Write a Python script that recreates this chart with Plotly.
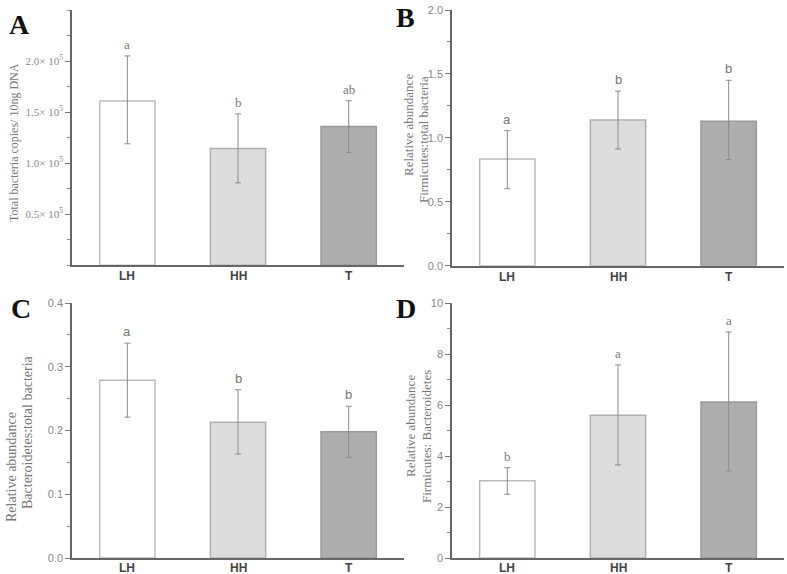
import plotly.graph_objects as go

categories = ["LH", "HH", "T"]

# Panel A: total bacteria copies
a_mean = [1.61, 1.143, 1.359]
a_upper = [2.05, 1.483, 1.611]
a_lower = [1.19, 0.807, 1.104]
a_letters = ["a", "b", "ab"]

# Panel B: Firmicutes:total bacteria
b_mean = [0.835, 1.14, 1.13]
b_upper = [1.056, 1.366, 1.45]
b_lower = [0.602, 0.913, 0.83]
b_letters = ["a", "b", "b"]

# Panel C: Bacteroidetes:total bacteria
c_mean = [0.279, 0.213, 0.198]
c_upper = [0.337, 0.264, 0.238]
c_lower = [0.221, 0.163, 0.158]
c_letters = ["a", "b", "b"]

# Panel D: Firmicutes:Bacteroidetes
d_mean = [3.03, 5.6, 6.12]
d_upper = [3.54, 7.57, 8.86]
d_lower = [2.50, 3.65, 3.41]
d_letters = ["b", "a", "a"]

a_ticks = [0.5, 1.0, 1.5, 2.0]
a_ticktext = ["0.5× 10<sup>5</sup>", "1.0× 10<sup>5</sup>", "1.5× 10<sup>5</sup>", "2.0× 10<sup>5</sup>"]
b_ticks = [0.0, 0.5, 1.0, 1.5, 2.0]
b_ticktext = ["0.0", "0.5", "1.0", "1.5", "2.0"]
c_ticks = [0.0, 0.1, 0.2, 0.3, 0.4]
c_ticktext = ["0.0", "0.1", "0.2", "0.3", "0.4"]
d_ticks = [0, 2, 4, 6, 8, 10]
d_ticktext = ["0", "2", "4", "6", "8", "10"]

fill_colors = ["#ffffff", "#dcdcdc", "#adadad"]
line_colors = ["#bcbcbc", "#b0b0b0", "#9a9a9a"]

SERIF = "Liberation Serif, Times New Roman, serif"
SANS = "Liberation Sans, Arial, sans-serif"

W, H = 787, 574

def px_x(p):
    return p / W

def px_y(p):
    return 1 - p / H

panels = [
    (a_mean, a_upper, a_lower, a_letters, a_ticks, a_ticktext, [0, 2.5], 0.25,
     [px_x(72), px_x(404)], [px_y(265.3), px_y(10)], SERIF, SERIF),
    (b_mean, b_upper, b_lower, b_letters, b_ticks, b_ticktext, [0, 2.0], 0.25,
     [px_x(452), px_x(784)], [px_y(265.7), px_y(10)], SANS, SANS),
    (c_mean, c_upper, c_lower, c_letters, c_ticks, c_ticktext, [0, 0.4], 0.05,
     [px_x(72), px_x(404)], [px_y(558), px_y(303)], SANS, SANS),
    (d_mean, d_upper, d_lower, d_letters, d_ticks, d_ticktext, [0, 10], 1,
     [px_x(452), px_x(784)], [px_y(558), px_y(303)], SANS, SERIF),
]

fig = go.Figure()
annotations = []
layout = {}

for i, (mean, up, lo, letters, ticks, ttext, yr, minor, xd, yd, tfont, lfont) in enumerate(panels):
    idx = "" if i == 0 else str(i + 1)
    xa, ya = "x" + idx, "y" + idx
    err_plus = [u - m for u, m in zip(up, mean)]
    err_minus = [m - l for m, l in zip(mean, lo)]
    fig.add_trace(go.Bar(
        x=categories, y=mean, xaxis=xa, yaxis=ya, width=0.5,
        marker=dict(color=fill_colors, line=dict(color=line_colors, width=1.5)),
        error_y=dict(type="data", array=err_plus, arrayminus=err_minus,
                     color="#8a8a8a", thickness=1, width=3),
        showlegend=False, hoverinfo="skip",
    ))
    layout["xaxis" + idx] = dict(
        domain=xd, anchor=ya, range=[-0.5, 2.5], type="category",
        showline=True, linecolor="#666666", linewidth=1.5, ticks="",
        showticklabels=False, automargin=False,
        showgrid=False, zeroline=False, fixedrange=True,
    )
    layout["yaxis" + idx] = dict(
        domain=yd, anchor=xa, range=yr, tickvals=ticks, ticktext=ttext,
        showline=True, linecolor="#666666", linewidth=1.5,
        ticks="outside", ticklen=5, tickcolor="#777777", tickwidth=1,
        minor=dict(dtick=minor, ticks="outside", ticklen=3, tickcolor="#888888", tickwidth=1, tick0=0),
        tickfont=dict(family=tfont, size=11, color="#888888"),
        showgrid=False, zeroline=False, fixedrange=True, automargin=False,
    )
    for c in categories:
        annotations.append(dict(
            x=c, y=0, xref=xa, yref=ya, text="<b>%s</b>" % c, showarrow=False,
            yanchor="top", yshift=-2 if i < 2 else -1,
            font=dict(family=SANS, size=12, color="#444444"),
        ))
    for c, u, t in zip(categories, up, letters):
        annotations.append(dict(
            x=c, y=u, xref=xa, yref=ya, text=t, showarrow=False,
            yanchor="bottom", yshift=2,
            font=dict(family=lfont, size=13, color="#777777"),
        ))

# Panel letters
for t, x, y in [("A", 19, 25), ("B", 405, 18), ("C", 21, 308), ("D", 406, 308)]:
    annotations.append(dict(
        x=px_x(x), y=px_y(y), xref="paper", yref="paper", text="<b>%s</b>" % t,
        showarrow=False, xanchor="center", yanchor="middle",
        font=dict(family=SERIF, size=28, color="#111111"),
    ))

# Y-axis titles (one annotation per line)
ytitles = [
    ("Total bacteria copies/ 10ng DNA", 14, 143, 12),
    ("Relative abundance", 409, 125, 13),
    ("Firmicutes:total bacteria", 423, 140, 13),
    ("Relative abundance", 11, 467, 14),
    ("Bacteroidetes:total bacteria", 27, 432, 14),
    ("Relative abundance", 410, 426, 13),
    ("Firmicutes: Bacteroidetes", 426, 437, 13),
]
for t, x, y, s in ytitles:
    annotations.append(dict(
        x=px_x(x), y=px_y(y), xref="paper", yref="paper", text=t,
        showarrow=False, textangle=-90, xanchor="center", yanchor="middle",
        font=dict(family=SERIF, size=s, color="#777777"),
    ))

fig.update_layout(
    width=W, height=H, margin=dict(l=0, r=0, t=0, b=0),
    paper_bgcolor="white", plot_bgcolor="white",
    annotations=annotations, **layout,
)

fig.write_html("out.html", config={"displayModeBar": False},
               post_script="document.body.style.margin='0';")
